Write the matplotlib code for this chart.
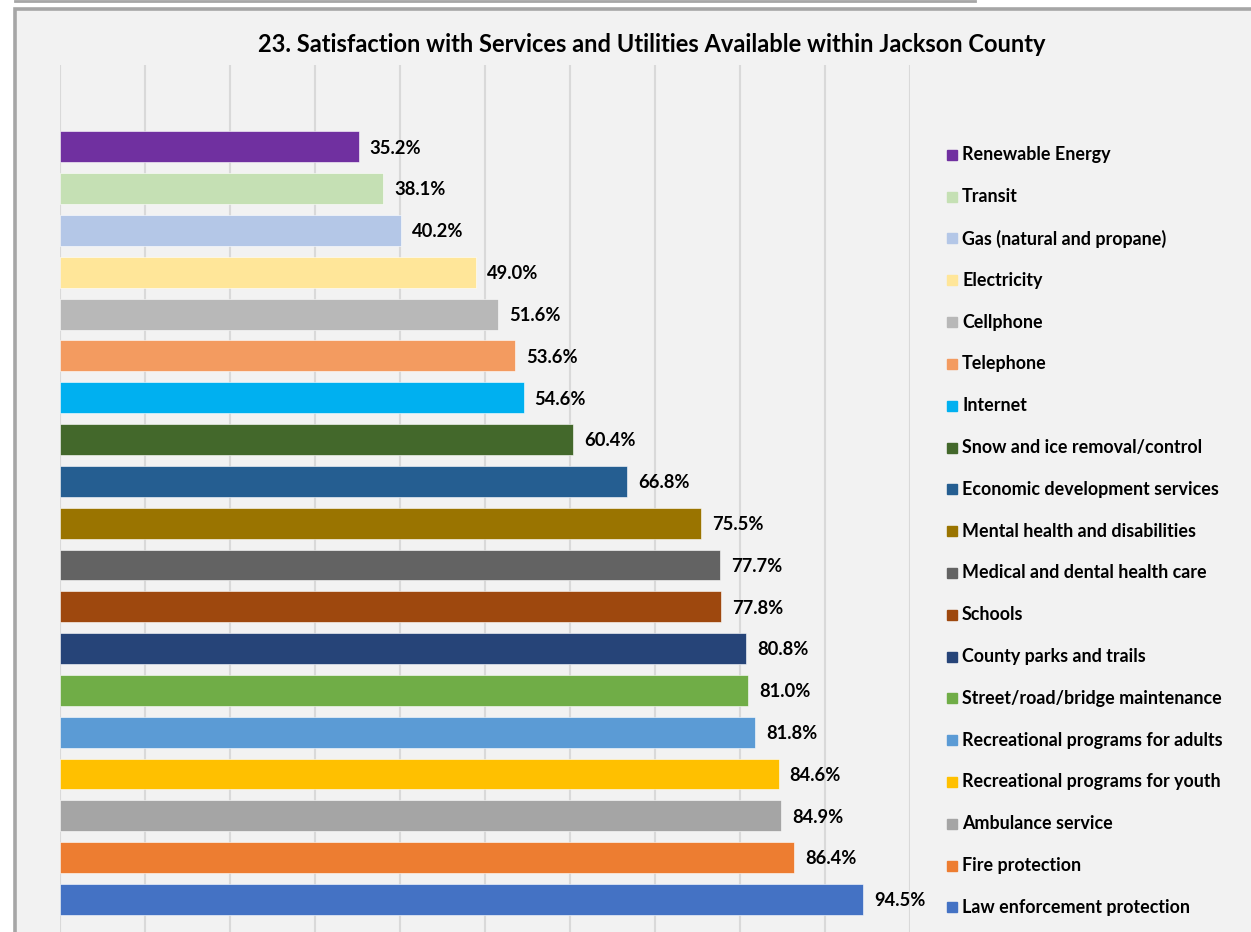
import matplotlib
matplotlib.use("Agg")
import matplotlib.pyplot as plt
import matplotlib.transforms as mtransforms
from matplotlib.patches import Rectangle
from matplotlib.lines import Line2D

categories = ["Renewable Energy", "Transit", "Gas (natural and propane)", "Electricity",
              "Cellphone", "Telephone", "Internet", "Snow and ice removal/control",
              "Economic development services", "Mental health and disabilities",
              "Medical and dental health care", "Schools", "County parks and trails",
              "Street/road/bridge maintenance", "Recreational programs for adults",
              "Recreational programs for youth", "Ambulance service", "Fire protection",
              "Law enforcement protection"]
values = [35.2, 38.1, 40.2, 49.0, 51.6, 53.6, 54.6, 60.4, 66.8, 75.5, 77.7, 77.8,
          80.8, 81.0, 81.8, 84.6, 84.9, 86.4, 94.5]
colors = ["#7030A0", "#C5E0B4", "#B4C7E7", "#FFE699", "#B8B8B8", "#F39B60", "#00B0F0",
          "#43682B", "#255E91", "#9A7400", "#636363", "#9E480E", "#264478", "#70AD47",
          "#5B9BD5", "#FFC000", "#A5A5A5", "#ED7D31", "#4472C4"]
title = "23. Satisfaction with Services and Utilities Available within Jackson County"
xticks = [0, 10, 20, 30, 40, 50, 60, 70, 80, 90, 100]

plt.rcParams['font.family'] = ['Lato', 'DejaVu Sans']

W, H = 1251, 932
fig = plt.figure(figsize=(W / 100, H / 100), dpi=100)
fig.patch.set_facecolor("white")

# chart frame
top = 1 - 9 / H
frame = Rectangle((14.5 / W, -0.1), 1.2, top + 0.1, transform=fig.transFigure,
                  facecolor="#F2F2F2", edgecolor="#A6A6A6", linewidth=2.6, zorder=-5)
fig.patches.append(frame)
fig.lines.append(Line2D([15 / W, 975 / W], [1 - 1 / H, 1 - 1 / H], transform=fig.transFigure,
                        color="#A6A6A6", linewidth=2, zorder=-5))

ax = fig.add_axes([59.5 / W, 0, 850 / W, (932 - 65) / H])
ax.set_zorder(2)
ax.set_facecolor("none")
n = len(categories)
pos = list(range(n))
ax.barh(pos, values, height=0.74, color=colors, edgecolor="white", linewidth=0.4, zorder=3)
ax.set_xlim(0, 100)
ax.set_ylim(18.78, -1.96)
ax.set_xticks(xticks)
ax.grid(axis="x", color="#D9D9D9", linewidth=1.5, zorder=0)
ax.tick_params(left=False, bottom=False, labelleft=False, labelbottom=False)
for s in ax.spines.values():
    s.set_visible(False)

for i, v in enumerate(values):
    ax.text(v + 1.3, i + 0.03, f"{v:.1f}%", va="center", ha="left", fontsize=13.2,
            fontweight="bold", color="black", zorder=4)

tr = mtransforms.blended_transform_factory(fig.transFigure, ax.transData)
for i, (c, col) in enumerate(zip(categories, colors)):
    ax.plot([952 / W], [i + 0.19], marker="s", markersize=7.2, color=col, transform=tr,
            clip_on=False, linestyle="none")
    ax.text(962 / W, i + 0.19, c, transform=tr, va="center", ha="left", fontsize=12.9,
            fontweight="bold", color="black", clip_on=False)

fig.text(652 / W, 1 - 44 / H, title, ha="center", va="center", fontsize=17,
         fontweight="bold", color="black", zorder=3)

fig.savefig("out.png", dpi=100, facecolor="white")
